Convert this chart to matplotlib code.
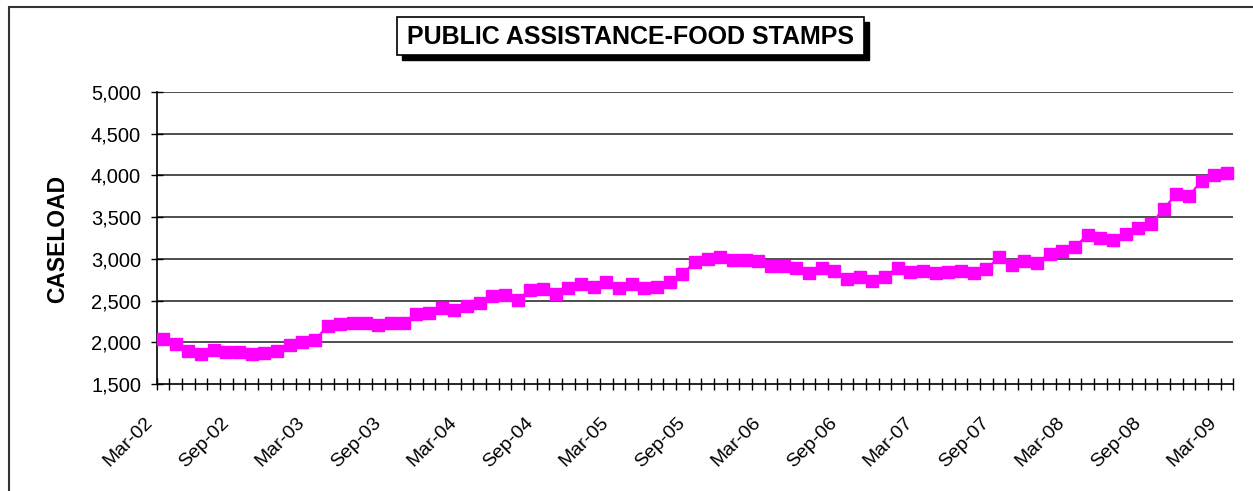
import matplotlib
matplotlib.use("Agg")
import matplotlib.pyplot as plt
from matplotlib.patches import Rectangle
import pandas as pd

plt.rcParams['font.family'] = ['Liberation Sans', 'DejaVu Sans']

# Monthly food stamp caseload, Mar-02 through Mar-09
months = pd.date_range("2002-03-01", periods=85, freq="MS").strftime("%b-%y").tolist()
caseload = [
    2044, 1984, 1900, 1864, 1908, 1880, 1880, 1864, 1876, 1900, 1972, 2000, 2024,
    2200, 2224, 2228, 2232, 2212, 2228, 2232, 2344, 2350,
    2408, 2388, 2436, 2472, 2560, 2568, 2512, 2628, 2644, 2576, 2652, 2696, 2664,
    2724, 2656, 2696, 2656, 2668, 2724, 2816, 2964, 3002, 3028,
    2984, 2984, 2972, 2916, 2916, 2896, 2828, 2892, 2860, 2756, 2784, 2732, 2788,
    2892, 2848, 2860, 2828, 2844, 2856, 2832,
    2876, 3020, 2928, 2976, 2956, 3060, 3096, 3148, 3284, 3252, 3228, 3292, 3372,
    3420, 3596, 3780, 3756, 3936, 4008, 4028,
]
y_ticks = [1500, 2000, 2500, 3000, 3500, 4000, 4500, 5000]
title = "PUBLIC ASSISTANCE-FOOD STAMPS"
y_label = "CASELOAD"
label_every = 6

W, H = 1253, 491
fig = plt.figure(figsize=(W / 100, H / 100), dpi=100)


def fx(px):
    return px / W


def fy(py):
    return 1 - py / H


# outer chart frame
fig.patches.append(Rectangle((fx(8.5), fy(500)), fx(1260), fy(6.5) - fy(500),
                             transform=fig.transFigure, fill=False,
                             edgecolor="#333333", linewidth=1.5))

ax = fig.add_axes([fx(156.7), fy(384), fx(1233.3) - fx(156.7), fy(92) - fy(384)])

x = list(range(len(caseload)))
ax.plot(x, caseload, color="#FF00FF", linewidth=1.6, marker="s",
        markersize=8.8, markeredgecolor="#FF00FF", markerfacecolor="#FF00FF",
        zorder=3, clip_on=False)

ax.set_xlim(-0.5, len(caseload) - 0.5)
ax.set_ylim(y_ticks[0], y_ticks[-1])
ax.set_yticks(y_ticks)
ax.set_yticklabels([f"{v:,}" for v in y_ticks])

for v in y_ticks[1:]:
    ax.axhline(v, color="#303030", linewidth=1.2, zorder=1)

for s in ["top", "right"]:
    ax.spines[s].set_visible(False)
for s in ["left", "bottom"]:
    ax.spines[s].set_color("black")
    ax.spines[s].set_linewidth(1.2)

# category boundaries as crossing tick marks
ax.set_xticks([i - 0.5 for i in range(len(caseload) + 1)])
ax.set_xticklabels([])
ax.tick_params(axis="x", direction="inout", length=8.5, width=1.0, color="black")
ax.tick_params(axis="y", direction="inout", length=8.5, width=1.0, color="black",
               labelsize=14.5, pad=7)

for i in range(0, len(caseload), label_every):
    ax.annotate(months[i], xy=(i, 0), xycoords=("data", "axes fraction"),
                xytext=(-9, -26), textcoords="offset points",
                rotation=45, rotation_mode="anchor", ha="right", va="center",
                fontsize=14)

fig.text(fx(58), fy(239), y_label, rotation=90, ha="center", va="center",
         fontsize=16.5, fontweight="bold")

# title box with drop shadow
bx0, bx1, by0, by1 = 397, 864, 17, 55
fig.patches.append(Rectangle((fx(bx0 + 5), fy(by1 + 5)), fx(bx1 - bx0), fy(by0) - fy(by1),
                             transform=fig.transFigure, facecolor="black",
                             edgecolor="black", linewidth=1))
fig.patches.append(Rectangle((fx(bx0), fy(by1)), fx(bx1 - bx0), fy(by0) - fy(by1),
                             transform=fig.transFigure, facecolor="white",
                             edgecolor="black", linewidth=1.2))
fig.text(fx((bx0 + bx1) / 2), fy(37), title, ha="center", va="center",
         fontsize=18, fontweight="bold")

fig.savefig("out.png", dpi=100)
